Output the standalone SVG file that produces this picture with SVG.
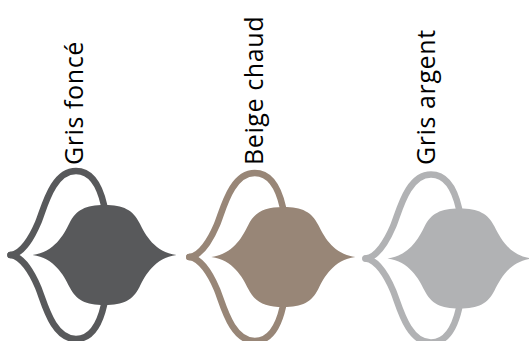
<svg xmlns="http://www.w3.org/2000/svg" width="529" height="341" viewBox="0 0 529 341">
<style>
.lbl{font-family:"Open Sans","DejaVu Sans",sans-serif;font-size:25px;letter-spacing:0.6px;fill:#000}
.ol{fill:none;stroke:currentColor;stroke-width:6.5;stroke-linecap:round;stroke-linejoin:round}
.bd{fill:currentColor;stroke:none}
.dark{color:#58595b}
.beige{color:#988677}
.silver{color:#b1b2b4}
</style>
<defs>
<g id="onion">
<path class="ol" d="M10.5,0 C22,-1 32,-18 38,-32 C44,-46 52,-84 76,-84 C90,-84 99,-72 104,-50 L106,-38"/>
<path class="ol" d="M10.5,0 C22,1 32,18 38,32 C44,46 52,84 76,84 C90,84 99,72 104,50 L106,38"/>
<path class="bd" d="M32.5,0 C54.5,-3 63.5,-20 69.5,-32 C76,-45 85.5,-50 104.5,-50 C123.5,-50 133,-45 139.5,-32 C145.5,-20 154.5,-3 176.5,0 C154.5,3 145.5,20 139.5,32 C133,45 123.5,50 104.5,50 C85.5,50 76,45 69.5,32 C63.5,20 54.5,3 32.5,0 Z"/>
</g>
</defs>
<g id="connectors"></g>
<g id="node-gris-fonce" class="dark">
<use href="#onion" transform="translate(0,255)"/>
<text class="lbl" transform="translate(83,165) rotate(-90)">Gris foncé</text>
</g>
<g id="node-beige-chaud" class="beige">
<use href="#onion" transform="translate(178.8,257)"/>
<text class="lbl" transform="translate(263,165) rotate(-90)">Beige chaud</text>
</g>
<g id="node-gris-argent" class="silver">
<use href="#onion" transform="translate(355,258.5)"/>
<text class="lbl" transform="translate(435,165) rotate(-90)">Gris argent</text>
</g>
</svg>
